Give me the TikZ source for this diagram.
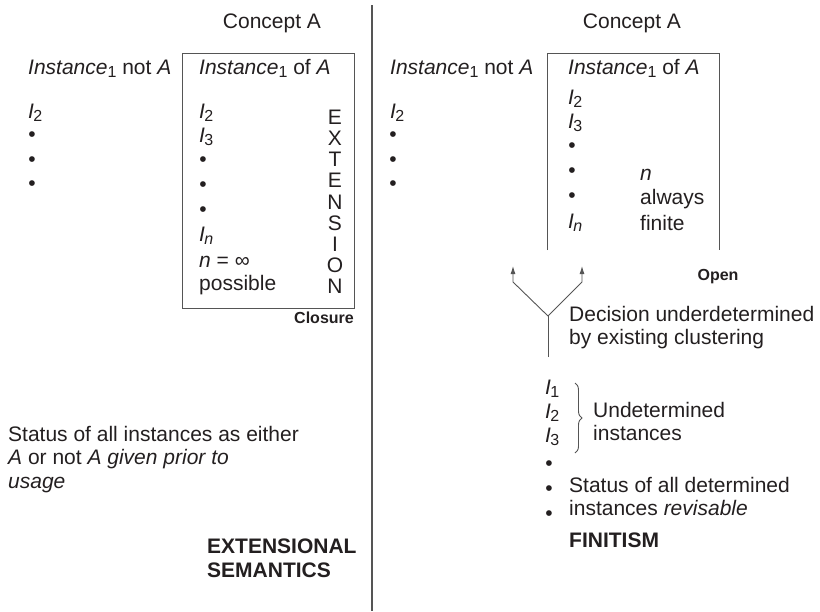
\documentclass[tikz,border=0pt]{standalone}
\usepackage{fontspec}
\setmainfont{Liberation Sans}
\usetikzlibrary{arrows.meta,decorations.pathreplacing}

\definecolor{ink}{RGB}{35,31,32}
\definecolor{rule}{RGB}{85,85,85}

\newcommand{\lowsub}[1]{\raisebox{-3pt}{\fontsize{16}{16}\selectfont #1}}
\newcommand{\inst}[1]{\textit{I}\kern-0.03em\lowsub{#1}}

\tikzset{
  txt/.style={font=\fontsize{21}{23.5}\selectfont, text=ink, inner sep=0pt},
  lbl/.style={txt, anchor=mid west},
  dot/.style={txt, anchor=center},
  tag/.style={font=\fontsize{16}{18}\selectfont\bfseries, text=ink, inner sep=0pt},
  frame/.style={draw=rule, line width=0.9pt},
  fork/.style={draw=rule, line width=0.9pt},
}

\begin{document}
\begin{tikzpicture}[x=1pt,y=-1pt]
	\useasboundingbox (0,0) rectangle (820,611);

	% divider between the two halves
	\coordinate (top) at (372,5);
	\coordinate (bot) at (372,611);
	\draw[rule, line width=1.3pt] (top) -- (bot);

	% left half: extensional semantics
	\node[txt] (conceptL) at (272,23) {Concept A};
	\draw[frame] (182,53) rectangle (354,308);
	\node[lbl] (notL) at (28,72) {\textit{Instance}\lowsub{1} not \textit{A}};
	\node[lbl] (ofL) at (199,72) {\textit{Instance}\lowsub{1} of \textit{A}};

	\node[lbl] (iL) at (28,116) {\inst{2}};
	\foreach \y [count=\k] in {137,162,186}
		\node[dot] (dL\k) at (32,\y) {\textbullet};

	\node[lbl] (bI2) at (199,116) {\inst{2}};
	\node[lbl] (bI3) at (199,140) {\inst{3}};
	\foreach \y [count=\k] in {162,187,212}
		\node[dot] (dB\k) at (203,\y) {\textbullet};
	\node[lbl] (bIn) at (199,239) {\inst{\textit{n}}};
	\node[lbl] (inf) at (199,265) {\textit{n} = ∞};
	\node[lbl] (poss) at (199,288) {possible};
	\node[txt, align=center, font=\fontsize{21}{21.1}\selectfont, anchor=north] (ext) at (335,110) {E\\X\\T\\E\\N\\S\\I\\O\\N};
	\node[tag, anchor=mid east] (closure) at (354,321) {Closure};

	\node[txt, align=left, anchor=north west] (statusL) at (8,426)
		{Status of all instances as either\\ \textit{A} or not \textit{A given prior to}\\ \textit{usage}};
	\node[txt, align=left, anchor=north west, font=\fontsize{21}{23.5}\selectfont\bfseries] (extsem) at (207,539)
		{EXTENSIONAL\\SEMANTICS};

	% right half: finitism
	\node[txt] (conceptR) at (632,23) {Concept A};
	\draw[frame] (547,250) -- (547,53) -- (719,53) -- (719,250);
	\node[lbl] (notR) at (390,72) {\textit{Instance}\lowsub{1} not \textit{A}};
	\node[lbl] (ofR) at (568,72) {\textit{Instance}\lowsub{1} of \textit{A}};

	\node[lbl] (iR) at (390,116) {\inst{2}};
	\foreach \y [count=\k] in {137,162,186}
		\node[dot] (dR\k) at (393,\y) {\textbullet};

	\node[lbl] (oI2) at (568,102) {\inst{2}};
	\node[lbl] (oI3) at (568,126) {\inst{3}};
	\foreach \y [count=\k] in {148,173,198}
		\node[dot] (dO\k) at (572,\y) {\textbullet};
	\node[lbl] (oIn) at (568,226) {\inst{\textit{n}}};
	\node[lbl] (nn) at (640,178) {\textit{n}};
	\node[lbl] (always) at (640,202) {always};
	\node[lbl] (finite) at (640,228) {finite};
	\node[tag] (open) at (718,277) {Open};

	% the fork of the undecided case
	\coordinate (stem) at (548,357);
	\coordinate (split) at (548,316);
	\coordinate (bendL) at (513,282);
	\coordinate (bendR) at (582,282);
	\coordinate (tipL) at (513,266);
	\coordinate (tipR) at (582,266);
	\draw[fork] (stem) -- (split);
	\draw[fork, -{Latex[length=8pt,width=5pt]}] (split) -- (bendL) -- (tipL);
	\draw[fork, -{Latex[length=8pt,width=5pt]}] (split) -- (bendR) -- (tipR);
	\node[txt, align=left, anchor=north west] (decision) at (569,306)
		{Decision underdetermined\\by existing clustering};

	\node[lbl] (uI1) at (545,392) {\inst{1}};
	\node[lbl] (uI2) at (545,416) {\inst{2}};
	\node[lbl] (uI3) at (545,440) {\inst{3}};
	\coordinate (braceT) at (575,383);
	\coordinate (braceB) at (575,453);
	\draw[rule, line width=0.9pt, decorate, decoration={brace, amplitude=7pt}] (braceT) -- (braceB);
	\node[txt, align=left, anchor=north west] (undet) at (593,402) {Undetermined\\instances};
	\foreach \y [count=\k] in {466,491,516}
		\node[dot] (dU\k) at (549,\y) {\textbullet};
	\node[txt, align=left, anchor=north west] (statusR) at (569,477)
		{Status of all determined\\instances \textit{revisable}};
	\node[lbl, font=\fontsize{21}{23.5}\selectfont\bfseries] (finitism) at (569,545) {FINITISM};
\end{tikzpicture}
\end{document}
